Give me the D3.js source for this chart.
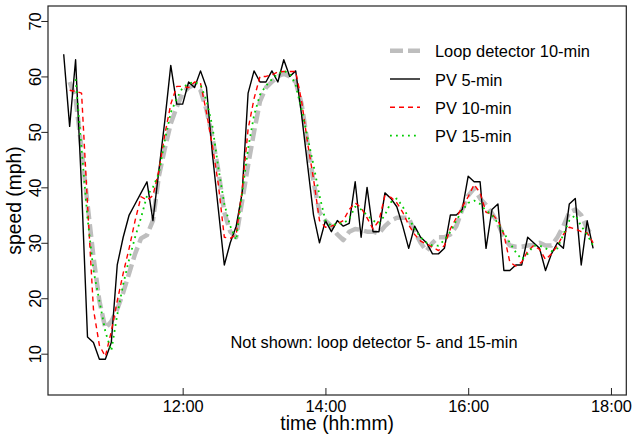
<!DOCTYPE html>
<html lang="en">
<head>
    <meta charset="UTF-8">
    <title>Speed: loop detector vs probe vehicle</title>
    <script src="https://d3js.org/d3.v7.min.js"></script>
    <style>
        body {
            margin: 0;
            padding: 0;
            background-color: #fff;
        }
        svg {
            display: block;
            font-family: "Liberation Sans", Arial, sans-serif;
        }
        .label {
            fill: #000;
        }
    </style>
</head>
<body>
    <div id="chart"></div>

    <script>
        // time stamps, 5 minute steps
        const times = [
            "10:20","10:25","10:30","10:35","10:40","10:45","10:50","10:55","11:00","11:05",
            "11:10","11:15","11:20","11:25","11:30","11:35","11:40","11:45","11:50","11:55",
            "12:00","12:05","12:10","12:15","12:20","12:25","12:30","12:35","12:40","12:45",
            "12:50","12:55","13:00","13:05","13:10","13:15","13:20","13:25","13:30","13:35",
            "13:40","13:45","13:50","13:55","14:00","14:05","14:10","14:15","14:20","14:25",
            "14:30","14:35","14:40","14:45","14:50","14:55","15:00","15:05","15:10","15:15",
            "15:20","15:25","15:30","15:35","15:40","15:45","15:50","15:55","16:00","16:05",
            "16:10","16:15","16:20","16:25","16:30","16:35","16:40","16:45","16:50","16:55",
            "17:00","17:05","17:10","17:15","17:20","17:25","17:30","17:35","17:40","17:45"
        ];

        const loop10 = [
            null, 59, 56, 47, 37, 27.5, 19.5, 14.6, 15.8, 18,
            21, 24.5, 28, 30.8, 31.4, 34, 42, 47, 51.5, 54.5,
            57, 58, 58.5, 57.5, 54, 49, 43, 35.5, 32, 31,
            37.5, 44, 50, 55.5, 58, 59, 60, 60.5, 60, 59,
            55, 48, 41, 35.5, 34, 33, 31.5, 30.5, 32, 32.5,
            32.3, 32, 32, 31.7, 33, 34, 34.5, 34.5, 34.5, 32,
            30, 28.5, 30, 31, 31, 31.5, 33, 36, 38.5, 39.8,
            38, 36.8, 35.3, 33.5, 31, 29.5, 29.3, 29.3, 29.5, 29.6,
            30, 29.5, 29.5, 31, 33, 35.5, 36, 35, 32.5, 31.2
        ];

        const pv5 = [
            64, 51, 63, 40, 13, 12, 9, 9, 12, 26,
            31, 35, 37, 39, 41, 34, 43, 52, 62, 55,
            55, 59, 58, 61, 58, 46, 36, 26, 30, 33,
            39, 57, 61, 59, 59, 61, 59, 63, 60, 61,
            53, 44, 35, 30, 34, 32, 34, 33, 33.5, 41,
            31, 40, 32, 32, 39, 38, 36.5, 33, 29, 33,
            31, 30, 28, 28, 29, 35, 35, 36, 42, 41,
            41, 29, 36, 37, 25, 25, 26, 26, 31, 30,
            29, 25, 28, 30, 29, 37, 38, 26, 34, 29
        ];

        const pv10 = [
            null, 57.5, 57.3, 57, 37, 18, 11.5, 9.5, 14, 19.5,
            24.5, 29, 34, 38.3, 37.7, 38.5, 43, 49.5, 55, 58.2,
            58.2, 58, 59, 58.8, 53.5, 47.5, 40.5, 31, 30.8, 31.5,
            39.5, 50.5, 56, 60, 60, 60.3, 60.8, 60.9, 60.9, 60.9,
            55.5, 48, 41.5, 34, 32.8, 33, 33.4, 34, 36, 37.2,
            36.3, 34.5, 32.5, 34, 38.5, 38.2, 37.2, 35.5, 33.2, 31.5,
            30.3, 29.8, 29.2, 28.6, 29.5, 32.5, 34.5, 36.5, 38.3, 40.5,
            39, 35.5, 35.2, 34, 31.5, 26.5, 25.8, 26.5, 28.5, 29.5,
            28.8, 27, 28, 29.5, 31.5, 32.8, 32.5, 32, 31.8, 30
        ];

        const pv15 = [
            null, null, 59.5, 47, 34.5, 25, 19.5, 14, 10.5, 17,
            22.5, 27, 31, 34.5, 38.5, 40, 42.5, 48.5, 53.5, 56,
            58, 58.7, 59, 58.5, 55.7, 51, 43.5, 37, 33, 30.5,
            39, 47, 53, 56.7, 58.3, 59.5, 60.5, 61, 60.5, 58.5,
            54, 49, 44, 38.5, 34, 33, 33.5, 33.5, 34.3, 36.5,
            36, 35, 34, 33.5, 35, 37.3, 38, 36.5, 34.5, 32.5,
            31, 30, 29.5, 29.5, 30.5, 32, 34, 35.8, 37.2, 37.6,
            37, 35.8, 35, 33.5, 31.8, 30, 28.3, 27, 28, 29.5,
            29.5, 29, 28.5, 29, 31.5, 34, 35, 33, 31.5, 29.5
        ];

        const xTicks = ["12:00", "14:00", "16:00", "18:00"];
        const yTicks = [10, 20, 30, 40, 50, 60, 70];

        const seriesNames = ["Loop detector 10-min", "PV 5-min", "PV 10-min", "PV 15-min"];

        const W = 633, H = 437;
        const box = { left: 48, top: 6, right: 626.3, bottom: 395 };

        const toMin = s => +s.slice(0, 2) * 60 + +s.slice(3);

        const svg = d3.select("#chart")
            .append("svg")
            .attr("width", W)
            .attr("height", H);

        const x = d3.scaleLinear()
            .domain([606.8, 1092.9])
            .range([box.left, box.right]);

        const y = d3.scaleLinear()
            .domain([2.55, 72.7])
            .range([box.bottom, box.top]);

        // line styles for each series
        const styles = [
            { data: loop10, color: "#bebebe", width: 4.5, dash: "13,5" },
            { data: pv5, color: "#000", width: 1.4, dash: null },
            { data: pv10, color: "#ff0000", width: 1.4, dash: "5,4" },
            { data: pv15, color: "#00cc00", width: 1.8, dash: "1.8,4.2" }
        ];

        const line = d3.line()
            .defined(d => d.v != null)
            .x(d => x(d.t))
            .y(d => y(d.v));

        styles.forEach(s => {
            const pts = times.map((t, i) => ({ t: toMin(t), v: s.data[i] }));
            svg.append("path")
                .datum(pts)
                .attr("fill", "none")
                .attr("stroke", s.color)
                .attr("stroke-width", s.width)
                .attr("stroke-dasharray", s.dash)
                .attr("stroke-linejoin", "round")
                .attr("d", line);
        });

        // plot box
        svg.append("rect")
            .attr("x", box.left)
            .attr("y", box.top)
            .attr("width", box.right - box.left)
            .attr("height", box.bottom - box.top)
            .attr("fill", "none")
            .attr("stroke", "#222")
            .attr("stroke-width", 1.2);

        // x axis (ticks point inwards)
        const xAxis = svg.append("g")
            .attr("transform", `translate(0,${box.bottom})`)
            .call(d3.axisBottom(x)
                .tickValues(xTicks.map(toMin))
                .tickFormat((d, i) => xTicks[i])
                .tickSize(-7));
        xAxis.select(".domain").remove();
        xAxis.attr("font-family", null).attr("font-size", null).attr("color", "#222");
        xAxis.selectAll("text")
            .attr("y", 17)
            .attr("dy", 0)
            .style("font-size", "16.4px")
            .attr("fill", "#000");

        // y axis, rotated labels like R default
        const yAxis = svg.append("g")
            .attr("transform", `translate(${box.left},0)`)
            .call(d3.axisLeft(y).tickValues(yTicks).tickSize(6.7));
        yAxis.select(".domain").remove();
        yAxis.attr("font-family", null).attr("font-size", null).attr("color", "#222");
        yAxis.selectAll("text")
            .attr("x", 0)
            .attr("dy", 0)
            .attr("text-anchor", "middle")
            .attr("transform", "translate(-7.3,0) rotate(-90)")
            .style("font-size", "16.4px")
            .attr("fill", "#000");

        // axis titles
        svg.append("text")
            .attr("class", "label")
            .attr("x", (box.left + box.right) / 2)
            .attr("y", 430)
            .attr("text-anchor", "middle")
            .style("font-size", "19.3px")
            .text("time (hh:mm)");

        svg.append("text")
            .attr("class", "label")
            .attr("transform", `translate(21,${(box.top + box.bottom) / 2}) rotate(-90)`)
            .attr("text-anchor", "middle")
            .style("font-size", "19.3px")
            .text("speed (mph)");

        // note
        svg.append("text")
            .attr("class", "label")
            .attr("x", 374)
            .attr("y", 347.5)
            .attr("text-anchor", "middle")
            .style("font-size", "16.4px")
            .text("Not shown: loop detector 5- and 15-min");

        // legend
        const legend = svg.selectAll(".legend")
            .data(styles)
            .enter()
            .append("g")
            .attr("class", "legend")
            .attr("transform", (d, i) => `translate(390,${50.7 + i * 28.3})`);

        legend.append("line")
            .attr("x1", 0)
            .attr("x2", 30)
            .attr("y1", 0)
            .attr("y2", 0)
            .attr("stroke", d => d.color)
            .attr("stroke-width", d => d.width)
            .attr("stroke-dasharray", d => d.dash);

        legend.append("text")
            .attr("class", "label")
            .attr("x", 45)
            .attr("y", 6.6)
            .style("font-size", "16.4px")
            .text((d, i) => seriesNames[i]);
    </script>
</body>
</html>
